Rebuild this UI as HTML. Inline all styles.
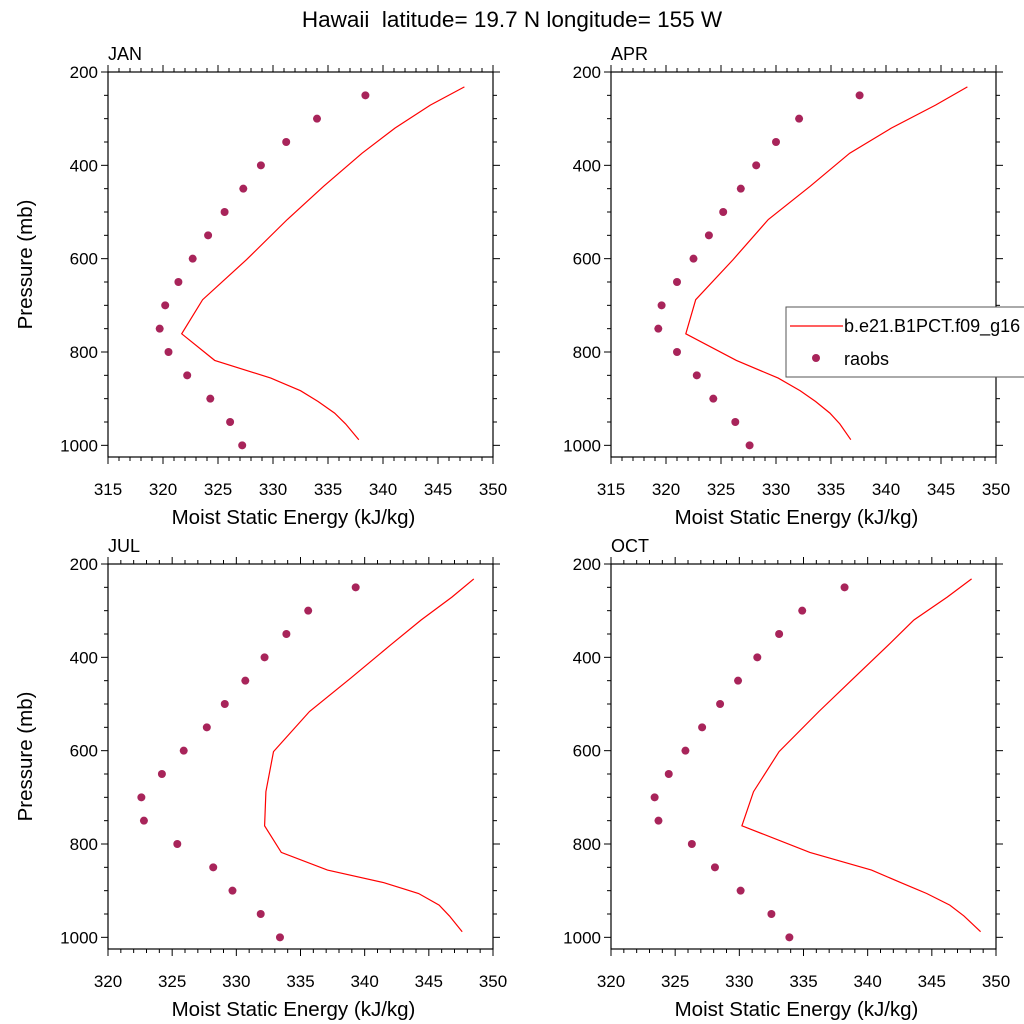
<!DOCTYPE html>
<html><head><meta charset="utf-8"><style>
body{margin:0;background:#fff;}
svg{display:block;font-family:"Liberation Sans",sans-serif;}
</style></head><body>
<svg id="c" width="1024" height="1024" viewBox="0 0 1024 1024">
<text x="512" y="27" text-anchor="middle" font-size="22.5" style="white-space:pre">Hawaii  latitude= 19.7 N longitude= 155 W</text>
</svg>
<script>
const levels=[232,271,320,374,445,516,602,688,761,818,856,883,906,931,954,988];
const obsLevels=[250,300,350,400,450,500,550,600,650,700,750,800,850,900,950,1000];
const janModel=[347.4,344.3,341.1,338.1,334.6,331.3,327.6,323.6,321.7,324.7,329.8,332.5,334.1,335.6,336.6,337.8];
const janObs=[338.4,334.0,331.2,328.9,327.3,325.6,324.1,322.7,321.4,320.2,319.7,320.5,322.2,324.3,326.1,327.2];
const aprModel=[347.4,344.5,340.5,336.7,333.1,329.3,326.1,322.7,321.8,326.4,330.2,332.2,333.6,334.9,335.8,336.8];
const aprObs=[337.6,332.1,330.0,328.2,326.8,325.2,323.9,322.5,321.0,319.6,319.3,321.0,322.8,324.3,326.3,327.6];
const julModel=[348.5,346.8,344.4,342.0,338.9,335.7,332.9,332.3,332.2,333.5,337.1,341.5,344.2,345.8,346.6,347.6];
const julObs=[339.3,335.6,333.9,332.2,330.7,329.1,327.7,325.9,324.2,322.6,322.8,325.4,328.2,329.7,331.9,333.4];
const octModel=[348.1,346.2,343.6,341.6,338.9,336.2,333.1,331.1,330.2,335.5,340.3,342.6,344.6,346.4,347.5,348.8];
const octObs=[338.2,334.9,333.1,331.4,329.9,328.5,327.1,325.8,324.5,323.4,323.7,326.3,328.1,330.1,332.5,333.9];
const yTicks=[200,400,600,800,1000];
const panels=[
 {name:'JAN',x0:108,y0:72,xmin:315,model:janModel,obs:janObs},
 {name:'APR',x0:611,y0:72,xmin:315,model:aprModel,obs:aprObs},
 {name:'JUL',x0:108,y0:564,xmin:320,model:julModel,obs:julObs},
 {name:'OCT',x0:611,y0:564,xmin:320,model:octModel,obs:octObs}
];
const NS='http://www.w3.org/2000/svg';
const svg=document.getElementById('c');
function mk(t,a,p){const e=document.createElementNS(NS,t);for(const k in a)e.setAttribute(k,a[k]);(p||svg).appendChild(e);return e;}
const W=385,H=385,PMIN=200,PMAX=1025,XMAX=350;
panels.forEach(P=>{
 const g=mk('g',{});
 
 
 const sx=v=>P.x0+(v-P.xmin)/(XMAX-P.xmin)*W;
 const sy=p=>P.y0+(p-PMIN)/(PMAX-PMIN)*H;
 const fr=mk('rect',{x:P.x0,y:P.y0,width:W,height:H,fill:'none',stroke:'#000','stroke-width':1.2},g);
 
 
 for(let v=P.xmin;v<=XMAX;v++){
  const maj=(v%5===0), L=maj?7:4, x=sx(v);
  mk('line',{x1:x,y1:P.y0,x2:x,y2:P.y0-L,stroke:'#000'},g);
  mk('line',{x1:x,y1:P.y0+H,x2:x,y2:P.y0+H+L,stroke:'#000'},g);
  if(maj){const t=mk('text',{x:x,y:P.y0+H+38,'text-anchor':'middle','font-size':17},g);t.textContent=v;
   
   }
 }
 for(let p=200;p<=1000;p+=50){
  const maj=(p%200===0), L=maj?7:4, y=sy(p);
  mk('line',{x1:P.x0,y1:y,x2:P.x0-L,y2:y,stroke:'#000'},g);
  mk('line',{x1:P.x0+W,y1:y,x2:P.x0+W+L,y2:y,stroke:'#000'},g);
 }
 yTicks.forEach(p=>{const t=mk('text',{x:P.x0-10,y:sy(p)+6,'text-anchor':'end','font-size':17},g);t.textContent=p;
  
  });
 const lb=mk('text',{x:P.x0,y:P.y0-12,'font-size':18},g);lb.textContent=P.name;
 
 
 const xt=mk('text',{x:P.x0+W/2-7,y:P.y0+H+67,'text-anchor':'middle','font-size':20.5},g);xt.textContent='Moist Static Energy (kJ/kg)';
 
 
 if(P.x0<300){const yt=mk('text',{transform:`translate(32,${P.y0+H/2}) rotate(-90)`,'text-anchor':'middle','font-size':20.5},g);yt.textContent='Pressure (mb)';
  
  }
 const pts=P.model.map((v,i)=>sx(v).toFixed(1)+','+sy(levels[i]).toFixed(1)).join(' ');
 const pl=mk('polyline',{points:pts,fill:'none',stroke:'#ff0000','stroke-width':1.2},g);
 
 
 P.obs.forEach((v,i)=>{const c=mk('circle',{cx:sx(v),cy:sy(obsLevels[i]),r:4,fill:'#a8245a'},g);
  
  });
});
const lg=mk('g',{});


mk('rect',{x:786,y:307,width:250,height:70,fill:'#fff',stroke:'#555','stroke-width':1},lg);
mk('line',{x1:790,y1:326,x2:843,y2:326,stroke:'#ff0000','stroke-width':1.2},lg);
const l1=mk('text',{x:844,y:332,'font-size':18},lg);l1.textContent='b.e21.B1PCT.f09_g16';


mk('circle',{cx:816,cy:358,r:4,fill:'#a8245a'},lg);
const l2=mk('text',{x:844,y:365,'font-size':18},lg);l2.textContent='raobs';


</script>
</body></html>
